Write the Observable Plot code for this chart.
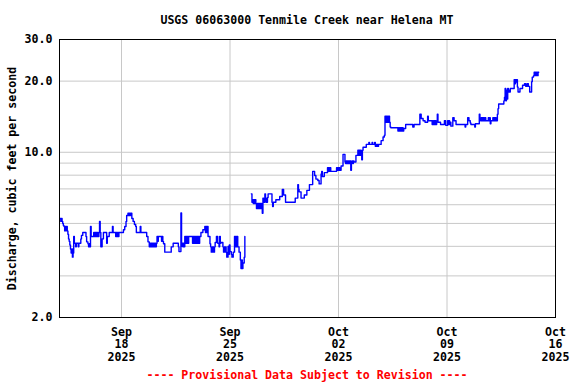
<!DOCTYPE html>
<html><head><meta charset="utf-8">
<script src="https://cdn.jsdelivr.net/npm/d3@7"></script>
<script src="https://cdn.jsdelivr.net/npm/@observablehq/plot@0.6"></script>
<style>
body{margin:0;background:#fff;}
#wrap{position:relative;width:576px;height:384px;font-family:"DejaVu Sans Mono",monospace;font-weight:bold;font-size:11.6px;}
#wrap svg{position:absolute;left:0;top:0;display:block;}
.t{position:absolute;left:59px;width:496px;text-align:center;line-height:14px;white-space:pre;}
</style></head><body>
<div id="wrap">
<div class="t" style="top:13px;color:#000">USGS 06063000 Tenmile Creek near Helena MT</div>
<div class="t" style="top:368px;color:#f00">---- Provisional Data Subject to Revision ----</div>
</div>
<script>
// Discharge readings (cfs), UTC "MM-DD HH" in 2025
const beforeGap = [
["09-14 01",5.25],["09-14 02",5.1],["09-14 03",5.25],["09-14 04",5.1],["09-14 05",5.0],["09-14 06",4.9],["09-14 07",4.85],["09-14 08",4.65],["09-14 09",4.85],["09-14 10",4.65],["09-14 11",4.85],["09-14 12",4.65],["09-14 13",4.5],["09-14 14",4.3],["09-14 15",4.2],["09-14 16",4.05],["09-14 17",3.9],["09-14 18",3.75],["09-14 19",3.9],["09-14 20",3.6],["09-14 21",3.75],["09-14 22",4.4],["09-14 23",4.12],
["09-15 01",3.98],["09-15 02",4.12],["09-15 05",3.98],["09-15 06",4.12],["09-15 09",4.3],["09-15 10",4.45],["09-15 12",4.58],["09-15 17",4.4],["09-15 18",4.18],["09-15 20",4.1],["09-15 21",3.98],["09-15 22",4.1],["09-15 23",3.98],
["09-16 00",4.85],["09-16 01",4.4],["09-16 05",4.58],["09-16 06",4.4],["09-16 07",4.58],["09-16 08",4.4],["09-16 09",4.58],["09-16 10",4.4],["09-16 11",4.58],["09-16 12",4.4],["09-16 13",4.58],["09-16 14",5.1],["09-16 15",4.58],["09-16 16",3.98],["09-16 18",4.3],["09-16 20",4.58],
["09-17 01",4.12],["09-17 02",4.4],["09-17 05",4.58],["09-17 10",4.85],["09-17 11",4.58],["09-17 15",4.4],["09-17 16",4.58],["09-17 17",4.4],["09-17 18",4.58],["09-17 19",4.4],["09-17 20",4.58],
["09-18 03",4.7],["09-18 05",4.85],["09-18 07",5.1],["09-18 08",5.4],["09-18 10",5.52],["09-18 11",5.4],["09-18 12",5.52],["09-18 13",5.4],["09-18 14",5.52],["09-18 16",5.25],["09-18 18",5.1],["09-18 20",4.95],["09-18 22",4.85],["09-18 23",4.58],
["09-19 05",4.85],["09-19 06",4.58],["09-19 15",4.4],["09-19 17",4.18],["09-19 19",3.98],["09-19 20",4.12],["09-19 21",3.98],["09-19 22",4.12],["09-19 23",3.98],
["09-20 00",4.12],["09-20 01",3.98],["09-20 02",4.12],["09-20 03",3.98],["09-20 04",4.12],["09-20 05",3.98],["09-20 06",4.12],["09-20 07",4.4],["09-20 08",4.2],["09-20 09",4.4],["09-20 14",4.2],["09-20 15",4.4],["09-20 16",4.2],["09-20 17",4.1],["09-20 19",3.78],
["09-21 05",3.98],["09-21 08",4.12],["09-21 16",3.98],["09-21 17",3.8],["09-21 20",5.54],["09-21 21",4.0],["09-21 22",4.12],["09-21 23",3.98],
["09-22 00",4.12],["09-22 01",3.98],["09-22 02",4.4],["09-22 03",4.12],["09-22 04",4.4],["09-22 05",4.12],["09-22 06",4.4],["09-22 07",4.12],["09-22 08",4.4],["09-22 14",4.12],["09-22 15",4.4],["09-22 16",4.12],["09-22 17",4.4],["09-22 18",4.12],["09-22 19",4.4],["09-22 20",4.12],["09-22 21",4.4],["09-22 22",4.12],["09-22 23",4.4],
["09-23 00",4.12],["09-23 01",4.4],["09-23 03",4.58],["09-23 06",4.7],["09-23 09",4.85],["09-23 10",4.58],["09-23 11",4.85],["09-23 12",4.58],["09-23 13",4.85],["09-23 14",4.4],["09-23 17",4.1],["09-23 18",3.98],["09-23 19",3.78],["09-23 20",3.98],["09-23 21",3.78],["09-23 22",3.98],["09-23 23",3.78],
["09-24 00",3.98],["09-24 01",4.15],["09-24 03",4.4],["09-24 05",4.12],["09-24 07",3.98],["09-24 08",4.4],["09-24 09",4.12],["09-24 10",4.15],["09-24 13",3.98],["09-24 14",3.78],["09-24 15",3.98],["09-24 16",3.78],["09-24 17",3.98],["09-24 18",3.78],["09-24 19",3.6],["09-24 21",4.0],["09-24 22",3.7],["09-24 23",4.05],
["09-25 00",3.8],["09-25 02",3.7],["09-25 03",3.6],["09-25 05",3.78],["09-25 07",4.4],["09-25 08",3.98],["09-25 09",4.4],["09-25 10",3.98],["09-25 11",4.4],["09-25 12",3.98],["09-25 14",3.78],["09-25 16",3.5],["09-25 17",3.22],["09-25 18",3.5],["09-25 19",3.22],["09-25 20",3.4],["09-25 22",3.6],["09-25 23",4.4]
];
const afterGap = [
["09-26 09",6.67],["09-26 10",6.15],["09-26 11",6.3],["09-26 12",6.07],["09-26 13",6.3],["09-26 14",6.07],["09-26 15",6.3],["09-26 16",6.07],["09-26 17",5.78],["09-26 18",6.07],["09-26 19",5.78],["09-26 20",6.07],["09-26 21",5.78],["09-26 22",6.07],["09-26 23",5.78],
["09-27 00",6.07],["09-27 01",5.78],["09-27 02",5.52],["09-27 03",6.4],["09-27 04",6.15],["09-27 06",6.67],["09-27 07",6.4],["09-27 08",6.15],["09-27 10",6.44],["09-27 11",6.67],["09-27 17",6.15],["09-27 18",5.9],["09-27 19",6.15],["09-27 23",6.3],
["09-28 05",6.5],["09-28 09",6.96],["09-28 11",6.6],["09-28 14",6.15],
["09-29 05",6.4],["09-29 09",7.3],["09-29 10",6.96],["09-29 11",6.8],["09-29 14",6.4],["09-29 19",6.6],["09-29 23",6.9],
["09-30 03",7.3],["09-30 08",8.3],["09-30 11",7.98],["09-30 13",7.7],["09-30 16",7.6],["09-30 18",7.35],["09-30 21",8.1],["09-30 22",8.3],["09-30 23",7.9],
["10-01 02",8.2],["10-01 07",8.6],["10-01 08",8.3],["10-01 09",8.6],["10-01 10",8.3],["10-01 11",8.6],["10-01 12",8.3],["10-01 21",8.6],["10-01 22",8.4],["10-01 23",8.6],
["10-02 00",8.4],["10-02 01",8.6],["10-02 02",8.4],["10-02 04",8.75],["10-02 07",9.8],["10-02 10",9.1],["10-02 11",8.96],["10-02 12",9.2],["10-02 13",8.96],["10-02 14",9.2],["10-02 15",8.96],["10-02 16",9.2],["10-02 17",8.96],["10-02 18",9.2],["10-02 19",8.4],["10-02 20",9.1],["10-02 21",9.2],["10-02 22",8.96],["10-02 23",9.2],
["10-03 00",9.1],["10-03 03",9.7],["10-03 06",10.2],["10-03 07",9.7],["10-03 08",10.2],["10-03 09",9.7],["10-03 10",10.2],["10-03 11",9.7],["10-03 12",9.3],["10-03 13",10.2],["10-03 14",10.5],["10-03 19",10.8],["10-03 23",11.0],
["10-04 00",10.8],["10-04 04",11.0],["10-04 05",10.8],["10-04 08",11.0],["10-04 09",10.6],["10-04 10",10.8],["10-04 11",10.6],["10-04 12",10.8],["10-04 13",10.6],["10-04 14",10.8],["10-04 18",11.2],["10-04 21",11.6],["10-04 23",11.8],
["10-05 00",14.2],["10-05 01",13.4],["10-05 02",14.2],["10-05 03",13.4],["10-05 04",14.2],["10-05 05",13.4],["10-05 06",14.2],["10-05 07",13.4],["10-05 08",12.8],["10-05 09",12.7],["10-05 20",12.3],["10-05 21",12.7],["10-05 22",12.3],["10-05 23",12.7],
["10-06 00",12.3],["10-06 01",12.7],["10-06 02",12.3],["10-06 03",12.7],["10-06 04",12.3],["10-06 05",12.6],["10-06 08",13.1],["10-06 19",12.8],["10-06 21",13.1],
["10-07 06",14.5],["10-07 08",13.9],["10-07 11",13.6],["10-07 14",13.4],["10-07 18",14.2],["10-07 19",13.6],
["10-08 01",13.1],["10-08 02",13.6],["10-08 03",13.1],["10-08 04",13.6],["10-08 05",13.1],["10-08 06",13.6],["10-08 07",13.1],["10-08 08",13.6],["10-08 09",14.5],["10-08 10",13.4],["10-08 14",13.1],["10-08 20",13.6],["10-08 22",13.0],
["10-09 01",13.6],["10-09 02",13.1],["10-09 03",13.6],["10-09 04",13.1],["10-09 05",13.4],["10-09 06",12.9],["10-09 09",14.0],["10-09 11",13.6],["10-09 14",13.1],
["10-10 04",12.8],["10-10 05",13.1],["10-10 08",14.0],["10-10 10",13.6],["10-10 12",13.3],["10-10 13",13.1],["10-10 19",12.8],["10-10 20",13.2],
["10-11 02",14.5],["10-11 03",14.0],["10-11 04",13.6],["10-11 05",14.0],["10-11 06",13.6],["10-11 07",14.0],["10-11 08",13.6],["10-11 09",14.0],["10-11 10",13.6],["10-11 11",14.0],["10-11 12",13.6],["10-11 16",14.0],["10-11 17",13.6],["10-11 18",14.0],["10-11 19",13.2],["10-11 20",13.6],["10-11 23",14.0],
["10-12 00",13.6],["10-12 01",14.0],["10-12 02",13.6],["10-12 03",14.0],["10-12 04",13.6],["10-12 06",14.5],["10-12 07",15.3],["10-12 08",16.0],["10-12 16",16.5],["10-12 17",17.1],["10-12 18",18.6],["10-12 19",16.5],["10-12 20",18.3],["10-12 21",16.8],["10-12 22",18.6],["10-12 23",18.0],
["10-13 00",18.3],["10-13 01",18.0],["10-13 02",18.6],["10-13 08",20.3],["10-13 09",19.5],["10-13 10",20.3],["10-13 11",19.8],["10-13 12",20.3],["10-13 13",18.9],["10-13 14",18.0],["10-13 17",18.6],["10-13 21",19.2],
["10-14 00",19.5],["10-14 02",19.0],["10-14 04",19.5],["10-14 06",19.0],["10-14 08",18.0],["10-14 11",19.9],["10-14 12",20.8],["10-14 14",21.1],["10-14 15",21.8],["10-14 16",21.1],["10-14 17",21.8],["10-14 18",21.1],["10-14 19",21.8],["10-14 20",21.1],["10-14 21",21.8],["10-14 22",21.8]
];
const xTicks = ["09-18 00","09-25 00","10-02 00","10-09 00","10-16 00"];
const xDomain = ["09-14 00","10-16 00"];
const yGrid = [3,4,5,6,7,8,9,10,20];
const yLabels = [2,10,20,30];
const yDomain = [2,30];

const parse = s => new Date(`2025-${s.replace(" ","T")}:00:00Z`);
const rows = arr => arr.map(([t,v]) => ({time: parse(t), flow: v}));

const chart = Plot.plot({
  width:576, height:384,
  marginTop:39, marginBottom:67, marginLeft:59, marginRight:21,
  style:{fontFamily:'"DejaVu Sans Mono", monospace', fontWeight:"bold", fontSize:"11.6px", color:"#000", background:"transparent"},
  x:{type:"utc", domain:xDomain.map(parse)},
  y:{type:"log", domain:yDomain},
  marks:[
    Plot.gridY(yGrid, {stroke:"#c8c8c8", strokeOpacity:1}),
    Plot.gridX(xTicks.slice(0,-1).map(parse), {stroke:"#c8c8c8", strokeOpacity:1}),
    Plot.line(rows(beforeGap), {x:"time", y:"flow", stroke:"#0000ff", strokeWidth:1.4, curve:"step-after"}),
    Plot.line(rows(afterGap), {x:"time", y:"flow", stroke:"#0000ff", strokeWidth:1.4, curve:"step-after"}),
    Plot.frame({stroke:"#000"}),
    Plot.axisY(yLabels, {tickSize:0, tickPadding:7, tickFormat:d3.format(".1f"), label:"Discharge, cubic feet per second", labelAnchor:"center", labelOffset:52, labelArrow:"none"}),
    Plot.axisX(xTicks.map(parse), {tickSize:0, tickPadding:9, tickFormat:d3.utcFormat("%b\n%d\n%Y"), label:null, lineHeight:1.1})
  ]
});
document.getElementById("wrap").prepend(chart);
</script>
</body></html>
